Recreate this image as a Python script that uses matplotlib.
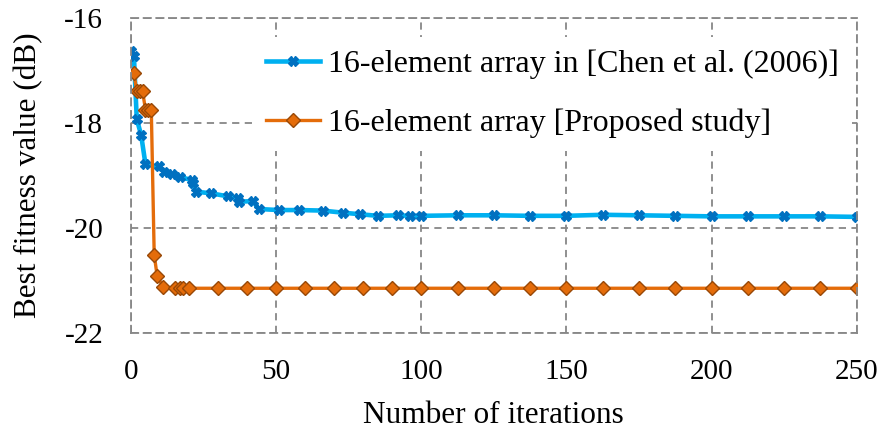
import matplotlib
matplotlib.use("Agg")
import matplotlib.pyplot as plt

plt.rcParams['font.family'] = ['Liberation Serif', 'DejaVu Serif']

# Chen et al. (2006) convergence curve
chen_iter = [0, 1, 2, 3.5, 5, 9.5, 11.5, 14, 17, 21, 21.5, 22.3, 27.5, 33.5, 37, 37.3,
             42, 44, 51, 58, 66, 73, 79, 85, 92, 96, 100, 112.5, 125, 137.5, 150,
             162.5, 175, 187.5, 200, 212.5, 225, 237.5, 250]
chen_fit = [-16.63, -16.72, -17.93, -18.23, -18.79, -18.83, -18.93, -18.98, -19.03,
            -19.09, -19.15, -19.31, -19.34, -19.40, -19.43, -19.50, -19.49, -19.64,
            -19.66, -19.66, -19.67, -19.71, -19.74, -19.77, -19.76, -19.77, -19.77,
            -19.76, -19.76, -19.77, -19.77, -19.75, -19.76, -19.77, -19.78, -19.78,
            -19.78, -19.78, -19.79]

# proposed study convergence curve
prop_iter = [1, 2, 3, 4, 5, 6, 7, 8, 9, 11, 15, 17, 18, 20, 30, 40, 50, 60, 70, 80, 90,
             100, 112.5, 125, 137.5, 150, 162.5, 175, 187.5, 200, 212.5, 225, 237.5, 250]
prop_fit = [-17.04, -17.40, -17.40, -17.40, -17.75, -17.75, -17.75, -20.51, -20.91,
            -21.12, -21.15, -21.15, -21.15, -21.15, -21.15, -21.15, -21.15, -21.15,
            -21.15, -21.15, -21.15, -21.15, -21.15, -21.15, -21.15, -21.15, -21.15,
            -21.15, -21.15, -21.15, -21.15, -21.15, -21.15, -21.15]

fig = plt.figure(figsize=(8.85, 4.38), dpi=100)
ax = fig.add_axes([0.148, 0.240, 0.820, 0.719])

ax.plot(chen_iter, chen_fit, color='#00B0F0', linewidth=3.3, marker='X',
        markersize=7, markerfacecolor='#0070C0', markeredgecolor='#0070C0',
        label='16-element array in [Chen et al. (2006)]')
ax.plot(prop_iter, prop_fit, color='#E46C0A', linewidth=2.4, marker='D',
        markersize=7, markerfacecolor='#E46C0A', markeredgecolor='#984807',
        label='16-element array [Proposed study]')

ax.set_xlim(0, 250)
ax.set_ylim(-22, -16)
ax.set_xticks([0, 50, 100, 150, 200, 250])
ax.set_yticks([-22, -20, -18, -16])
ax.set_yticklabels(['-22', '-20', '-18', '-16'])

ax.grid(True, color='#878787', linestyle='--', linewidth=1.3, dashes=(4, 3))
ax.set_axisbelow(True)
for side in ['left', 'right', 'top', 'bottom']:
    ax.spines[side].set_color('#878787')
    ax.spines[side].set_linestyle((0, (4, 3)))
    ax.spines[side].set_linewidth(1.3)
ax.tick_params(length=0, labelsize=21)
ax.tick_params(axis='x', pad=19)
ax.tick_params(axis='y', pad=20)

ax.set_xlabel('Number of iterations', fontsize=22.5, labelpad=11)
ax.set_ylabel('Best fitness value (dB)', fontsize=22.5, labelpad=15)

# white legend box hides the grid behind it
leg = ax.legend(loc='upper right', bbox_to_anchor=(0.993, 0.939), fontsize=23,
                frameon=True, framealpha=1.0, edgecolor='white', handlelength=1.7,
                handletextpad=0.25, borderaxespad=0, borderpad=0.4,
                labelspacing=0.92)
leg.get_frame().set_linewidth(0)

fig.savefig('out.png', dpi=100)
